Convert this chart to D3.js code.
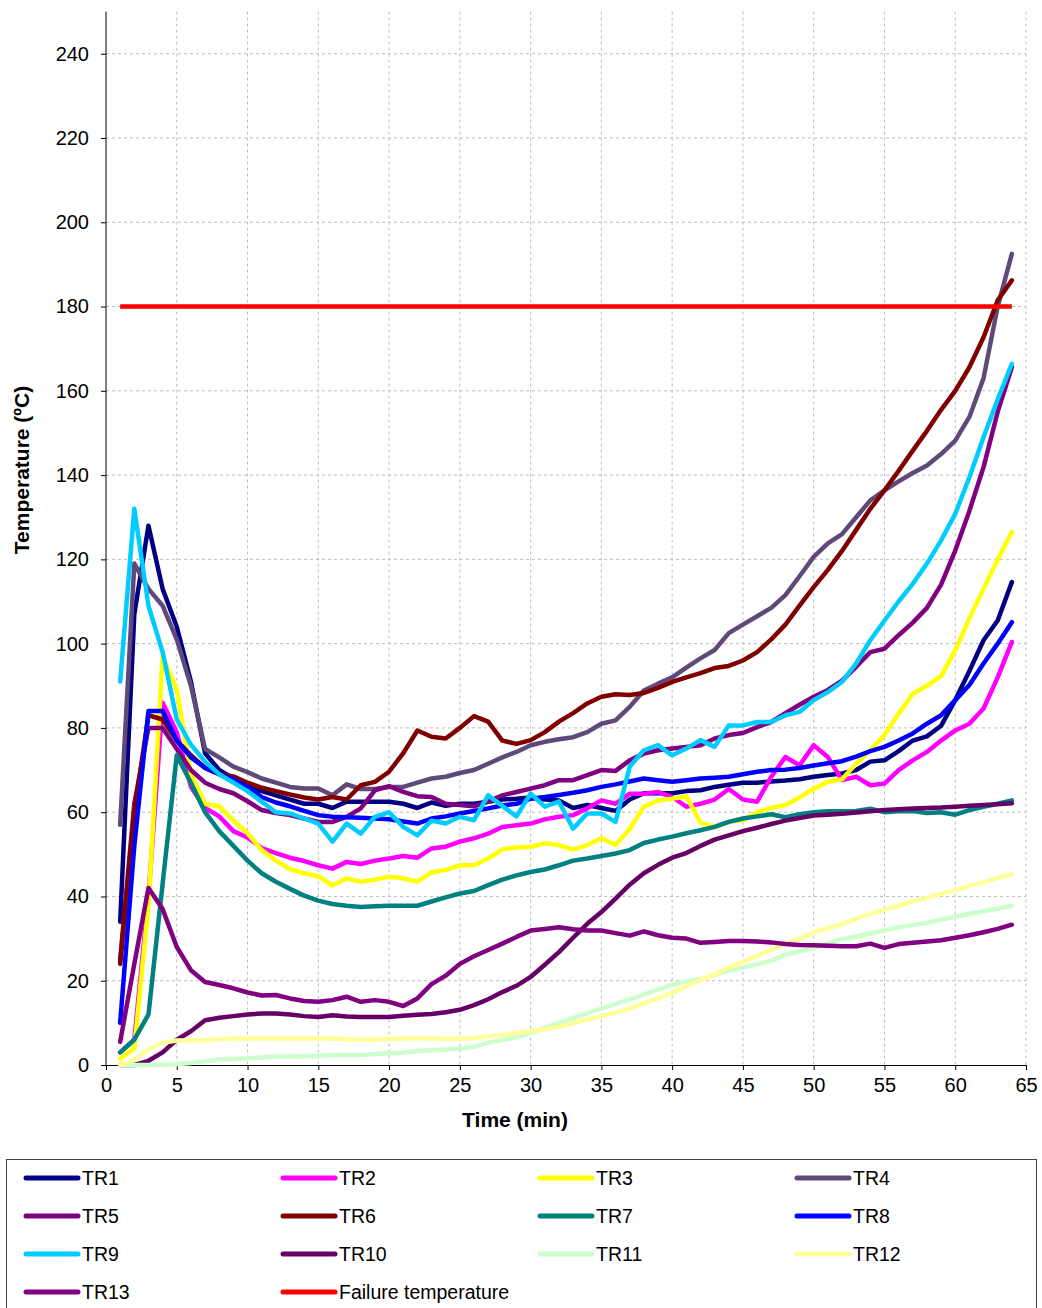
<!DOCTYPE html>
<html>
<head>
<meta charset="utf-8">
<script src="https://cdn.jsdelivr.net/npm/d3@7"></script>
<style>
  body { margin: 0; background: #fff; }
  svg { display: block; font-family: "Liberation Sans", Arial, sans-serif; }
  .grid line { stroke: #bdbdbd; stroke-dasharray: 3,3; stroke-width: 1; }
  .axis path, .axis line { stroke: #000; }
  .axis text { font-size: 20px; fill: #000; }
</style>
</head>
<body>
<svg id="chart" width="1042" height="1308"></svg>
<script>
const minutes = d3.range(1, 65);

const tr1 = [34,107,128,113,104,91,74,70,68,66, 65,64,63,62,62,61,62.5,62.5,62.5,62.5, 62,61,62.3,61.5,62,62,62.5,63,63.2,63.5, 63,62.8,61,61.7,61,60.3,63,64.5,64.5,64.5, 65,65.2,66,66.5,67,67,67.3,67.5,67.8,68.4, 68.8,69.2,70,72,72.3,74.5,77,78,80.5,86.6, 93.5,100.8,105.5,114.6];
const tr2 = [3,6,40,86,79,66,61,59,55.5,54, 51.5,50.3,49.2,48.4,47.4,46.6,48.2,47.7,48.5,49, 49.6,49.2,51.4,51.8,53,53.8,54.9,56.5,56.9,57.3, 58.3,58.9,59.3,60.9,62.8,62,64.4,64.4,64.8,63.6, 61.3,62,63,65.5,63,62.5,68.4,73.1,71.1,75.9, 73.1,67.6,68.4,66.4,66.8,70,72.3,74.3,77,79.4, 81,84.6,92,100.4];
const tr3 = [1.5,4,38,97,89,69,62,61.4,58,55, 51,48.5,46.5,45.5,44.8,42.6,44.3,43.5,44,44.7, 44.3,43.5,45.7,46.3,47.4,47.4,49,51.2,51.6,51.8, 52.6,52.2,51.1,52.2,53.8,52.2,56,61.3,62.8,63.2, 63.8,57.5,56.5,57.7,58.1,60,61,61.7,63.5,65.5, 67.2,67.8,71.5,74.7,78.3,83.4,88.1,90,92.3,98.4, 106,113,120,126.5];
const tr4 = [57,119,113,109,101,90,75,73,70.8,69.5, 68,67,66,65.6,65.6,64,66.6,65.5,65.5,66, 66,67,68,68.4,69.3,70,71.5,73,74.3,75.9, 76.7,77.3,77.8,79,81,81.8,85,88.9,90.5,92, 94.3,96.5,98.5,102.5,104.5,106.5,108.5,111.5,116,120.6, 123.8,126,130,134,136.4,138.5,140.5,142.3,145,148.2, 153.8,163,180,192.5];
const tr5 = [25,62,80,80,75,70,67,65.5,64.5,62.6, 60.5,59.8,59.3,58.5,57.7,57.7,58.9,60.9,65.2,66.2, 64.8,63.8,63.6,62,61.7,61.4,62.5,64,64.8,65.6, 66.4,67.6,67.6,68.8,70,69.8,72.3,73.9,74.7,75.1, 75.5,75.9,77.5,78.3,78.8,80.2,81.4,83.5,85.5,87.4, 89,91.2,94.5,98,98.8,102,105,108.5,114,122.1, 131.5,141.9,155,165.6];
const tr6 = [24,60,83,82,77,73.5,70.5,69,68.5,67, 65.8,65,64.2,63.5,63,63.6,63,66.4,67.2,69.6, 74,79.4,77.9,77.5,80,82.8,81.5,77,76.2,77.1, 79,81.5,83.5,85.8,87.4,88,87.8,88.3,89.5,90.9, 92,93,94.2,94.7,96,98,101,104.5,109,113.4, 117.5,122,127,132,136.4,141,145.8,150.5,155.5,160, 165.6,172.7,181.5,186.2];
const tr7 = [3,6,12,43,73.5,67,60,55.5,52,48.5, 45.5,43.5,41.8,40.2,39,38.2,37.8,37.5,37.7,37.8, 37.8,37.8,38.8,39.8,40.7,41.3,42.7,44,45,45.8, 46.4,47.4,48.5,49,49.6,50.2,51,52.7,53.5,54.2, 55,55.7,56.5,57.7,58.5,59,59.5,58.8,59.5,60, 60.2,60.2,60.3,60.8,60,60.2,60.3,59.8,60,59.4, 60.5,61.3,62,62.8];
const tr8 = [10,52,84,84,77,73,70.5,69,67.8,66, 63.6,62.3,61.4,60.3,59.3,58.9,58.8,58.7,58.5,58.3, 57.8,57.3,58.5,59,59.7,60.3,60.9,61.6,62,63.2, 63.6,64.1,64.6,65.2,66,66.6,67.3,68,67.6,67.2, 67.6,68,68.2,68.4,69,69.6,70,70.1,70.5,71.1, 71.6,72.1,73.2,74.5,75.5,77,78.7,81,83,86.6, 90.2,95.3,100,105.1];
const tr9 = [91,132,109,98,82,76,72,69,67,65, 62.5,60,59.7,58.5,57.3,53,57.3,54.9,58.9,60, 56.5,54.5,58,57.3,58.9,58.1,64,61.5,59,64.4, 61.3,62.5,56.1,59.7,59.7,57.7,70.8,74.7,75.9,73.5, 75.1,77.1,75.5,80.6,80.6,81.4,81.4,83,83.8,86.6, 88.5,90.9,95.3,100.8,105.5,110,114.2,119,124.5,130.8, 139.5,149,158,166.4];
const tr10 = [0,0,1,3,6,8,10.6,11.2,11.6,12, 12.2,12.2,12,11.6,11.4,11.8,11.5,11.4,11.4,11.4, 11.7,11.9,12.1,12.5,13.1,14.2,15.6,17.3,18.8,20.9, 23.8,26.8,30.2,33.5,36.3,39.5,42.8,45.5,47.5,49.2, 50.3,52,53.5,54.5,55.5,56.3,57.2,58,58.6,59.2, 59.4,59.6,59.9,60.2,60.5,60.7,60.9,61,61.1,61.3, 61.5,61.7,61.9,62.1];
const tr11 = [0,0,0,0,0.2,0.5,0.9,1.3,1.4,1.6, 1.8,2,2,2.1,2.2,2.4,2.4,2.4,2.6,2.8, 2.9,3.3,3.5,3.7,3.9,4.3,5.3,5.9,6.6,7.6, 8.8,10,11.1,12.3,13.4,14.5,15.6,16.7,17.9,19, 19.8,20.4,21.4,22.4,23.2,23.9,24.7,26.2,27,27.7, 28.8,29.9,30.5,31.2,31.9,32.7,33.2,33.7,34.5,35.2, 35.9,36.5,37.1,37.8];
const tr12 = [0,1.2,3.8,5.3,5.8,5.9,5.9,6.1,6.3,6.3, 6.3,6.3,6.3,6.3,6.3,6.3,6.1,6,6,6.2, 6.3,6.4,6.3,6.2,6.3,6.4,6.8,7.1,7.6,8, 8.5,9.1,9.9,10.8,11.6,12.4,13.4,14.6,15.8,17.1, 18.7,20.2,21.5,23.1,24.5,25.9,27.3,28.7,30,31.5, 32.5,33.4,34.7,35.9,36.8,37.8,38.8,39.7,40.6,41.5, 42.5,43.4,44.4,45.3];
const tr13 = [5.5,24,42,37,28,22.5,19.7,19,18.2,17.2, 16.5,16.6,15.8,15.2,15,15.4,16.2,15,15.4,15, 14,15.8,19.2,21.2,24,25.8,27.3,28.8,30.4,31.9, 32.3,32.7,32.2,31.9,31.9,31.3,30.7,31.7,30.8,30.2, 30,29,29.2,29.4,29.4,29.3,29.1,28.7,28.5,28.4, 28.3,28.2,28.2,28.8,27.8,28.7,29,29.3,29.6,30.2, 30.8,31.5,32.3,33.3];

const failureTimes = [1, 64];
const failureValues = [180, 180];

const seriesNames = ["TR1","TR2","TR3","TR4","TR5","TR6","TR7","TR8","TR9","TR10","TR11","TR12","TR13"];
const seriesValues = [tr1,tr2,tr3,tr4,tr5,tr6,tr7,tr8,tr9,tr10,tr11,tr12,tr13];
const seriesColors = ["#000080","#ff00ff","#ffff00","#5f497a","#800080","#800000","#008080","#0000ff","#00ccff","#660066","#ccffcc","#ffff99","#800080"];

const xTicks = d3.range(0, 66, 5);
const yTicks = d3.range(0, 241, 20);

const svg = d3.select("#chart");
const plotLeft = 106, plotRight = 1026, plotTop = 11.6, plotBottom = 1065;

const x = d3.scaleLinear().domain([0, 65]).range([plotLeft, plotRight]);
const y = d3.scaleLinear().domain([0, 250]).range([plotBottom, plotTop]);

svg.append("rect").attr("width", 1042).attr("height", 1308).attr("fill", "#fff");

// grid
const grid = svg.append("g").attr("class", "grid");
grid.selectAll("line.h")
    .data(yTicks.filter(d => d > 0))
    .enter().append("line")
    .attr("x1", plotLeft).attr("x2", plotRight)
    .attr("y1", d => y(d)).attr("y2", d => y(d));
grid.selectAll("line.v")
    .data(xTicks.filter(d => d > 0))
    .enter().append("line")
    .attr("x1", d => x(d)).attr("x2", d => x(d))
    .attr("y1", plotTop).attr("y2", plotBottom);

// axes
svg.append("g")
    .attr("class", "axis")
    .attr("transform", `translate(${plotLeft},0)`)
    .call(d3.axisLeft(y).tickValues(yTicks).tickSize(5).tickPadding(12).tickSizeOuter(0))
    .call(g => g.select(".domain").attr("d", `M0,${plotTop}V${plotBottom}`));

svg.append("g")
    .attr("class", "axis")
    .attr("transform", `translate(0,${plotBottom})`)
    .call(d3.axisBottom(x).tickValues(xTicks).tickSize(5).tickPadding(8).tickSizeOuter(0));

// lines
const line = d3.line()
    .x((d, i) => x(minutes[i]))
    .y(d => y(d));

svg.append("g")
    .selectAll("path")
    .data(seriesValues)
    .enter().append("path")
    .attr("d", d => line(d))
    .attr("fill", "none")
    .attr("stroke", (d, i) => seriesColors[i])
    .attr("stroke-width", 4.5)
    .attr("stroke-linejoin", "round")
    .attr("stroke-linecap", "round");

svg.append("path")
    .attr("d", d3.line().x((d, i) => x(failureTimes[i])).y(d => y(d))(failureValues))
    .attr("fill", "none")
    .attr("stroke", "#ff0000")
    .attr("stroke-width", 4.5);

// axis titles
svg.append("text")
    .attr("transform", "translate(29,470) rotate(-90)")
    .attr("text-anchor", "middle")
    .attr("font-weight", "bold")
    .attr("font-size", 21)
    .text("Temperature (ºC)");

svg.append("text")
    .attr("x", 515).attr("y", 1127)
    .attr("text-anchor", "middle")
    .attr("font-weight", "bold")
    .attr("font-size", 21)
    .text("Time (min)");

// legend
const legendNames = seriesNames.concat(["Failure temperature"]);
const legendColors = seriesColors.concat(["#ff0000"]);

svg.append("rect")
    .attr("x", 6.5).attr("y", 1159.5)
    .attr("width", 1030).attr("height", 170)
    .attr("fill", "none")
    .attr("stroke", "#404040");

const item = svg.append("g")
    .selectAll("g")
    .data(legendNames)
    .enter().append("g")
    .attr("transform", (d, i) => `translate(${24 + (i % 4) * 257},${1178 + Math.floor(i / 4) * 38})`);

item.append("line")
    .attr("x1", 2).attr("x2", 54)
    .attr("stroke", (d, i) => legendColors[i])
    .attr("stroke-width", 5)
    .attr("stroke-linecap", "round");

item.append("text")
    .attr("x", 58).attr("dy", "0.36em")
    .attr("font-size", 19.5)
    .text(d => d);
</script>
</body>
</html>
